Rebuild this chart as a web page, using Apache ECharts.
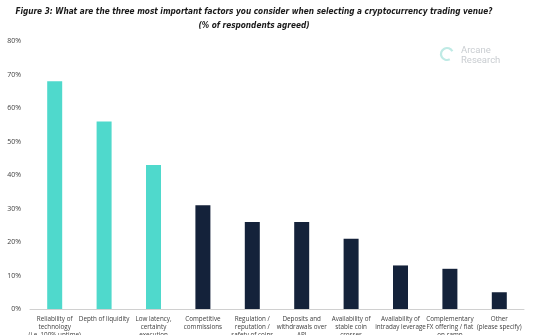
<!DOCTYPE html>
<html>
<head>
<meta charset="utf-8">
<style>
  html, body { margin: 0; padding: 0; background: #ffffff; }
  #chart { width: 553px; height: 335px; }
</style>
<script src="https://cdn.jsdelivr.net/npm/echarts@6/dist/echarts.min.js"></script>
</head>
<body>
<div id="chart"></div>
<script>
// Survey answers, share of respondents (%)
const categories = [
  'Reliability of\ntechnology\n(i.e. 100% uptime)',
  'Depth of liquidity',
  'Low latency,\ncertainty\nexecution',
  'Competitive\ncommissions',
  'Regulation /\nreputation /\nsafety of coins',
  'Deposits and\nwithdrawals over\nAPI',
  'Availability of\nstable coin\ncrosses',
  'Availability of\nintraday leverage',
  'Complementary\nFX offering / fiat\non-ramp',
  'Other\n(please specify)'
];
const shares = [68, 56, 43, 31, 26, 26, 21, 13, 12, 5];
// The top three factors are highlighted
const highlighted = [true, true, true, false, false, false, false, false, false, false];
const yTicks = [0, 10, 20, 30, 40, 50, 60, 70, 80];

const TEAL = '#4fd9cc';
const NAVY = '#14223a';

const chart = echarts.init(document.getElementById('chart'), null, { renderer: 'canvas' });

chart.setOption({
  animation: false,
  backgroundColor: '#ffffff',
  graphic: [
    {
      type: 'text',
      x: 254,
      y: 5,
      style: {
        text: 'Figure 3: What are the three most important factors you consider when selecting a cryptocurrency trading venue?\n(% of respondents agreed)',
        align: 'center',
        fontFamily: 'DejaVu Sans Condensed',
        fontStyle: 'italic',
        fontWeight: 'bold',
        fontSize: 8.2,
        lineHeight: 14,
        fill: '#1a1a1a'
      }
    },
    {
      type: 'arc',
      shape: { cx: 447, cy: 54, r: 6, startAngle: Math.PI * 0.35, endAngle: Math.PI * 1.85 },
      style: { stroke: '#bfeae5', lineWidth: 2.2, fill: null }
    },
    {
      type: 'text',
      x: 461,
      y: 45,
      style: {
        text: 'Arcane\nResearch',
        fontFamily: 'Roboto',
        fontSize: 9.5,
        lineHeight: 10.5,
        fill: '#c9cdd1'
      }
    }
  ],
  grid: {
    left: 30, right: 29, top: 41, bottom: 26,
    containLabel: false,
    outerBoundsMode: 'none'
  },
  xAxis: {
    type: 'category',
    data: categories,
    axisTick: { show: false },
    axisLine: { lineStyle: { color: '#d0d0d0', width: 1 } },
    axisLabel: {
      interval: 0,
      margin: 6,
      fontFamily: 'Open Sans',
      fontSize: 6.3,
      lineHeight: 8,
      color: '#404040'
    }
  },
  yAxis: {
    type: 'value',
    min: yTicks[0],
    max: yTicks[yTicks.length - 1],
    interval: 10,
    splitLine: { show: false },
    axisLine: { show: false },
    axisTick: { show: false },
    axisLabel: {
      margin: 9,
      fontFamily: 'Open Sans',
      fontSize: 7,
      color: '#404040',
      formatter: v => v + '%'
    }
  },
  series: [{
    type: 'bar',
    barWidth: 15,
    data: shares.map((v, i) => ({
      value: v,
      itemStyle: { color: highlighted[i] ? TEAL : NAVY }
    }))
  }]
});
</script>
</body>
</html>
